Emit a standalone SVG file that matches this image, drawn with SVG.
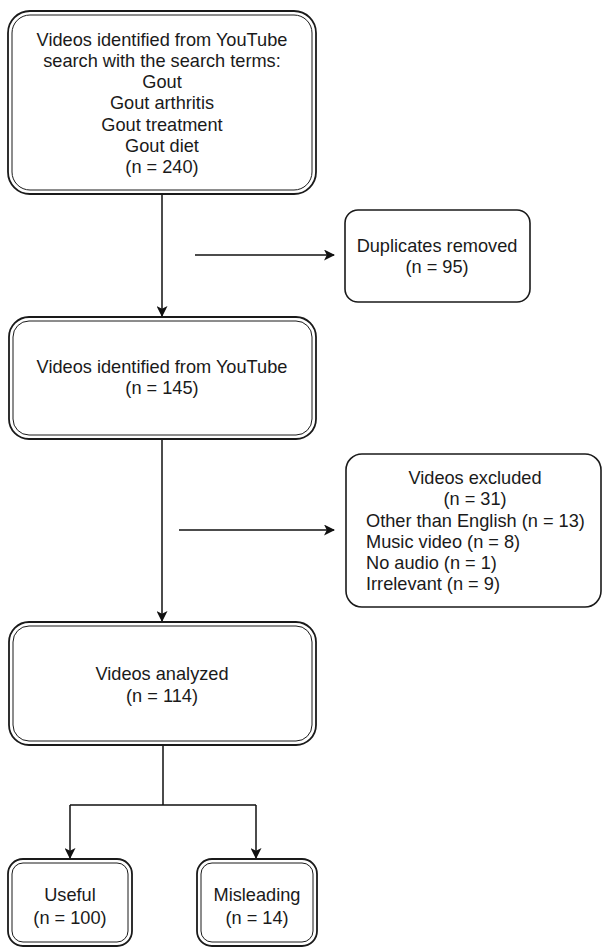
<svg xmlns="http://www.w3.org/2000/svg" width="603" height="948" viewBox="0 0 603 948">
<defs>
<marker id="ah" markerWidth="11" markerHeight="11" refX="10" refY="5.5" orient="auto" markerUnits="userSpaceOnUse">
<path d="M0,0 L11,5.5 L0,11 L2.8,5.5 Z" fill="#111"/>
</marker>
<style>
.o{fill:#fff;stroke:#1a1a1a;stroke-width:1.8}
.i{fill:none;stroke:#1a1a1a;stroke-width:1}
.s{fill:#fff;stroke:#1a1a1a;stroke-width:1.6}
.t{font-family:"Liberation Sans",Arial,sans-serif;font-size:18.2px;fill:#1a1a1a;text-anchor:middle}
.l{text-anchor:start}
.c{fill:none;stroke:#111;stroke-width:1.5}
</style>
</defs>
<rect width="603" height="948" fill="#fff"/>
<g id="connectors">
<line class="c" x1="162" y1="195" x2="162" y2="316" marker-end="url(#ah)"/>
<line class="c" x1="195" y1="255" x2="334" y2="255" marker-end="url(#ah)"/>
<line class="c" x1="162" y1="439" x2="162" y2="621" marker-end="url(#ah)"/>
<line class="c" x1="179" y1="530" x2="334" y2="530" marker-end="url(#ah)"/>
<path class="c" d="M163,746 V805 M70,805 H256"/>
<line class="c" x1="70" y1="805" x2="70" y2="858" marker-end="url(#ah)"/>
<line class="c" x1="256" y1="805" x2="256" y2="858" marker-end="url(#ah)"/>
</g>
<g id="n1">
<rect class="o" x="8" y="11" width="308" height="183" rx="22"/>
<rect class="i" x="12" y="15" width="300" height="175" rx="18"/>
<text class="t" x="162" y="46">Videos identified from YouTube</text>
<text class="t" x="162" y="67">search with the search terms:</text>
<text class="t" x="162" y="88">Gout</text>
<text class="t" x="162" y="109">Gout arthritis</text>
<text class="t" x="162" y="131">Gout treatment</text>
<text class="t" x="162" y="152">Gout diet</text>
<text class="t" x="162" y="173">(n = 240)</text>
</g>
<g id="n2">
<rect class="s" x="345" y="210" width="185" height="92" rx="13"/>
<text class="t" x="437" y="252">Duplicates removed</text>
<text class="t" x="437" y="273">(n = 95)</text>
</g>
<g id="n3">
<rect class="o" x="9" y="317" width="307" height="122" rx="20"/>
<rect class="i" x="13" y="321" width="299" height="114" rx="16"/>
<text class="t" x="162" y="373">Videos identified from YouTube</text>
<text class="t" x="162" y="394">(n = 145)</text>
</g>
<g id="n4">
<rect class="s" x="346" y="454" width="255" height="153" rx="16"/>
<text class="t" x="475" y="484">Videos excluded</text>
<text class="t" x="475" y="505">(n = 31)</text>
<text class="t l" x="366" y="527">Other than English (n = 13)</text>
<text class="t l" x="366" y="548">Music video (n = 8)</text>
<text class="t l" x="366" y="569">No audio (n = 1)</text>
<text class="t l" x="366" y="590">Irrelevant (n = 9)</text>
</g>
<g id="n5">
<rect class="o" x="9" y="622" width="307" height="123" rx="20"/>
<rect class="i" x="13" y="626" width="299" height="115" rx="16"/>
<text class="t" x="162" y="680">Videos analyzed</text>
<text class="t" x="162" y="702">(n = 114)</text>
</g>
<g id="n6">
<rect class="o" x="8" y="859" width="124" height="87" rx="15"/>
<rect class="i" x="12" y="863" width="116" height="79" rx="11"/>
<text class="t" x="70" y="901">Useful</text>
<text class="t" x="70" y="924">(n = 100)</text>
</g>
<g id="n7">
<rect class="o" x="197" y="859" width="120" height="87" rx="15"/>
<rect class="i" x="201" y="863" width="112" height="79" rx="11"/>
<text class="t" x="257" y="901">Misleading</text>
<text class="t" x="257" y="924">(n = 14)</text>
</g>
</svg>
